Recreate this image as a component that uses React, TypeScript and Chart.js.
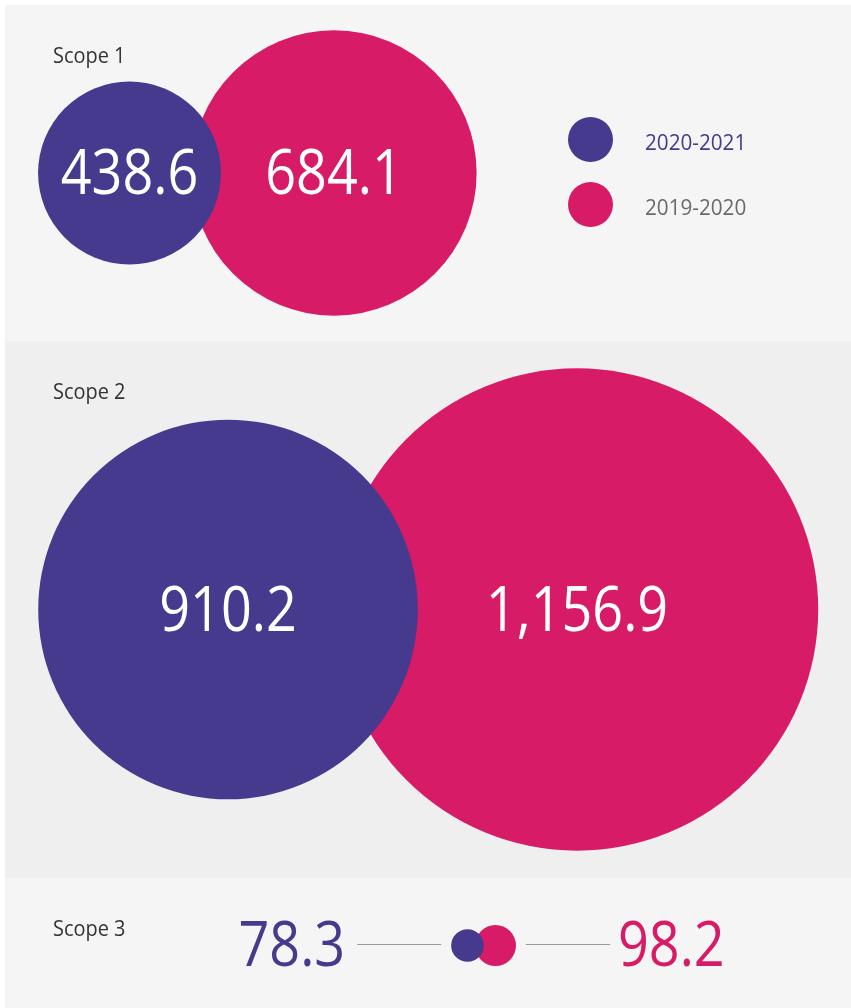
import React, { useEffect, useRef } from 'react';
import { Chart, registerables } from 'chart.js';

Chart.register(...registerables);

// ---- data ----
const scopes = ['Scope 1', 'Scope 2', 'Scope 3'];
const seriesLabels = ['2020-2021', '2019-2020'];
const values2021 = [438.6, 910.2, 78.3];
const values2020 = [684.1, 1156.9, 98.2];

// ---- layout / style (canvas pixels) ----
const W = 846;
const H = 1003;
const PANEL_TOPS = [0, 336, 873];
const PANEL_BG = ['#f5f5f5', '#efefef', '#f5f5f5'];
const X_2021 = [124.5, 223, 462.5];
const X_2020 = [329, 572, 490.5];
const Y_CENTER = [168, 604.5, 940.5];
const R_PER_UNIT = 0.2085;
const PURPLE = '#453a8e';
const PINK = '#d81b66';
const COLORS = [PURPLE, PINK];
const LEGEND_TEXT_COLORS = [PURPLE, '#6a6a6a'];
const FONT = '"Open Sans", "Noto Sans", sans-serif';

const fmt = (v: number) =>
  v.toLocaleString('en-US', { minimumFractionDigits: 1, maximumFractionDigits: 1 });

function drawText(
  ctx: CanvasRenderingContext2D,
  text: string,
  x: number,
  y: number,
  size: number,
  color: string,
  align: CanvasTextAlign,
  sx: number,
  weight = 400
) {
  ctx.save();
  ctx.translate(x, y);
  ctx.scale(sx, 1);
  ctx.font = `${weight} ${size}px ${FONT}`;
  ctx.fillStyle = color;
  ctx.textAlign = align;
  ctx.textBaseline = 'alphabetic';
  ctx.fillText(text, 0, 0);
  ctx.restore();
}

const decorPlugin = {
  id: 'decor',
  beforeDraw(chart: any) {
    const ctx = chart.ctx as CanvasRenderingContext2D;
    ctx.save();
    PANEL_TOPS.forEach((top, i) => {
      const bottom = i < PANEL_TOPS.length - 1 ? PANEL_TOPS[i + 1] : H;
      ctx.fillStyle = PANEL_BG[i];
      ctx.fillRect(0, top, W, bottom - top);
    });
    ctx.restore();
  },
  afterDatasetsDraw(chart: any) {
    const ctx = chart.ctx as CanvasRenderingContext2D;
    // scope titles
    scopes.forEach((s, i) => {
      drawText(ctx, s, 48, PANEL_TOPS[i] + 58, 21, '#333333', 'left', 0.95);
    });
    const m0 = chart.getDatasetMeta(0).data;
    const m1 = chart.getDatasetMeta(1).data;
    const last = scopes.length - 1;
    for (let i = 0; i < scopes.length; i++) {
      const a = m0[i];
      const b = m1[i];
      if (i < last) {
        drawText(ctx, fmt(values2021[i]), a.x, a.y + 21, 62, '#ffffff', 'center', 0.87, 500);
        drawText(ctx, fmt(values2020[i]), b.x, b.y + 21, 62, '#ffffff', 'center', 0.87, 500);
      } else {
        const ra = a.options.radius;
        const rb = b.options.radius;
        const lEnd = a.x - ra - 10;
        const lStart = lEnd - 84;
        const rStart = b.x + rb + 10;
        const rEnd = rStart + 84;
        ctx.save();
        ctx.strokeStyle = '#9a9a9a';
        ctx.lineWidth = 1.2;
        ctx.beginPath();
        ctx.moveTo(lStart, a.y - 1);
        ctx.lineTo(lEnd, a.y - 1);
        ctx.moveTo(rStart, b.y - 1);
        ctx.lineTo(rEnd, b.y - 1);
        ctx.stroke();
        ctx.restore();
        drawText(ctx, fmt(values2021[i]), lStart - 12, a.y + 20, 62, PURPLE, 'right', 0.87, 500);
        drawText(ctx, fmt(values2020[i]), rEnd + 8, b.y + 20, 62, PINK, 'left', 0.87, 500);
      }
    }
    // legend
    seriesLabels.forEach((lab, i) => {
      const cy = 134.5 + i * 65;
      ctx.save();
      ctx.fillStyle = COLORS[i];
      ctx.beginPath();
      ctx.arc(585.5, cy, 22.5, 0, Math.PI * 2);
      ctx.fill();
      ctx.restore();
      drawText(ctx, lab, 640, cy + 10.5, 22, LEGEND_TEXT_COLORS[i], 'left', 0.94, 500);
    });
  },
};

export default function App() {
  const ref = useRef<HTMLCanvasElement | null>(null);
  useEffect(() => {
    document.body.style.margin = '0';
    document.body.style.background = '#ffffff';
    if (!ref.current) return;
    const mk = (vals: number[], xs: number[]) =>
      vals.map((v, i) => ({ x: xs[i], y: Y_CENTER[i], r: v * R_PER_UNIT }));
    const chart = new Chart(ref.current, {
      type: 'bubble',
      data: {
        datasets: [
          {
            label: seriesLabels[0],
            data: mk(values2021, X_2021),
            backgroundColor: PURPLE,
            borderWidth: 0,
            hoverRadius: 0,
            clip: false as any,
          },
          {
            label: seriesLabels[1],
            data: mk(values2020, X_2020),
            backgroundColor: PINK,
            borderWidth: 0,
            hoverRadius: 0,
            clip: false as any,
          },
        ],
      },
      options: {
        responsive: false,
        animation: false,
        events: [],
        layout: { padding: 0, autoPadding: false },
        scales: {
          x: { type: 'linear', min: 0, max: W, display: false },
          y: { type: 'linear', min: 0, max: H, reverse: true, display: false },
        },
        plugins: {
          legend: { display: false },
          tooltip: { enabled: false },
        },
      },
      plugins: [decorPlugin],
    });
    return () => chart.destroy();
  }, []);
  return (
    <div style={{ padding: '5px 0 0 5px', background: '#ffffff', width: 846, height: 1003 }}>
      <canvas ref={ref} width={W} height={H} style={{ display: 'block', width: W, height: H }} />
    </div>
  );
}
